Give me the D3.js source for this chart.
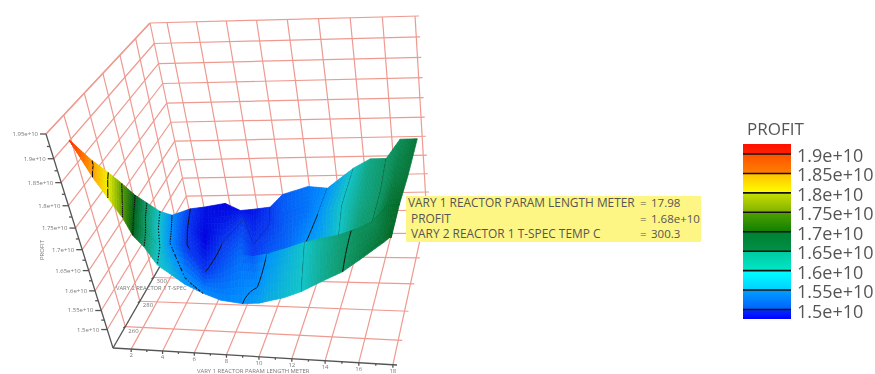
<!DOCTYPE html>
<html>
<head>
<meta charset="utf-8">
<script src="https://cdn.jsdelivr.net/npm/d3@7"></script>
<style>
  html, body { margin: 0; background: #fff; overflow: hidden; }
  svg { display: block; font-family: "Open Sans", sans-serif; }
</style>
</head>
<body>
<div id="chart"></div>
<script>
const lengthTicks = [2, 4, 6, 8, 10, 12, 14, 16, 18];
const tempTicks = [260, 280, 300, 320, 340];
const profitTicks = [1.5, 1.55, 1.6, 1.65, 1.7, 1.75, 1.8, 1.85, 1.9, 1.95];
const contourLevels = [1.5, 1.55, 1.6, 1.65, 1.7, 1.75, 1.8, 1.85, 1.9];
const surfaceStops = [1.47, 1.5, 1.55, 1.6, 1.65, 1.7, 1.75, 1.8, 1.85, 1.9];
const surfaceColors = ['#0000e0', '#0838f0', '#0090ff', '#12c4c8', '#0f9868', '#006018', '#60a000', '#f0f000', '#ffa000', '#ff3000'];
const legendLevels = [1.9, 1.85, 1.8, 1.75, 1.7, 1.65, 1.6, 1.55, 1.5];
const legendTop = ['#ff1000', '#ff5000', '#ffc000', '#c8e000', '#50a000', '#008030', '#00c8a0', '#00ffff', '#00a0ff', '#0030ff'];
const legendBottom = ['#ff2000', '#ff8000', '#ffff00', '#80b000', '#108000', '#009048', '#00e8c8', '#00d0ff', '#0060ff', '#0000ff'];
const tipLabels = ['VARY 1 REACTOR PARAM LENGTH METER', 'PROFIT', 'VARY 2 REACTOR 1 T-SPEC TEMP C'];
const tipValues = ['17.98', '1.68e+10', '300.3'];

// surface, one line per column, back row to front row.
// rows 2 and 3 split where the front sheet folds over the back sheet
const meshLength = [
  [0.8, 0.8, 0.8, 0.8, 0.8],
  [1.6, 1.9, 2.1, 2.1, 2.4],
  [1.7, 2.0, 2.4, 2.4, 2.8],
  [1.7, 2.2, 2.7, 2.7, 3.2],
  [1.8, 2.3, 2.8, 2.8, 3.3],
  [1.7, 2.2, 2.8, 2.8, 3.3],
  [1.8, 2.4, 3.2, 3.2, 3.7],
  [1.7, 2.2, 2.7, 2.7, 4.7],
  [1.7, 2.3, 3.0, 3.0, 5.3],
  [2.3, 3.4, 5.1, 5.1, 6.5],
  [3.5, 5.3, 6.3, 6.3, 7.7],
  [5.1, 6.0, 7.4, 7.4, 9.2],
  [6.0, 7.5, 7.9, 8.1, 10.4],
  [7.5, 8.0, 9.1, 9.4, 11.0],
  [8.3, 9.2, 10.2, 10.8, 12.1],
  [10.1, 10.8, 11.6, 12.2, 13.1],
  [11.7, 11.7, 12.8, 13.3, 14.3],
  [13.6, 13.7, 14.2, 14.6, 15.7],
  [14.9, 15.3, 15.8, 15.8, 16.6],
  [16.1, 16.4, 16.5, 16.6, 17.9],
  [16.7, 17.2, 17.4, 17.4, 18.2],
  [18.0, 18.1, 18.2, 18.2, 18.3]
];
const meshTemp = [
  [259, 259, 259, 259, 259],
  [262, 258, 254, 254, 249],
  [271, 265, 258, 258, 251],
  [280, 271, 262, 262, 253],
  [288, 277, 266, 266, 256],
  [299, 287, 275, 275, 263],
  [309, 294, 279, 279, 265],
  [323, 311, 298, 298, 262],
  [347, 328, 311, 311, 263],
  [356, 328, 290, 290, 260],
  [363, 315, 290, 290, 257],
  [352, 336, 296, 296, 254],
  [353, 314, 302, 298, 251],
  [348, 331, 297, 291, 250],
  [353, 329, 301, 288, 249],
  [355, 331, 299, 286, 251],
  [348, 326, 296, 283, 251],
  [349, 316, 290, 280, 252],
  [345, 309, 281, 281, 256],
  [340, 313, 288, 285, 263],
  [354, 323, 291, 291, 265],
  [347, 315, 289, 289, 265]
];
const meshProfit = [
  [1.9, 1.9, 1.9, 1.9, 1.9],
  [1.85, 1.85, 1.85, 1.85, 1.85],
  [1.8, 1.8, 1.8, 1.8, 1.8],
  [1.75, 1.75, 1.75, 1.75, 1.75],
  [1.7, 1.7, 1.7, 1.7, 1.7],
  [1.65, 1.65, 1.65, 1.65, 1.65],
  [1.6, 1.6, 1.6, 1.6, 1.6],
  [1.55, 1.55, 1.55, 1.55, 1.585],
  [1.5, 1.5, 1.5, 1.5, 1.56],
  [1.48, 1.47, 1.5, 1.5, 1.55],
  [1.47, 1.5, 1.515, 1.515, 1.545],
  [1.48, 1.5, 1.53, 1.53, 1.55],
  [1.48, 1.5, 1.5, 1.52, 1.565],
  [1.5, 1.5, 1.52, 1.55, 1.575],
  [1.52, 1.52, 1.525, 1.575, 1.59],
  [1.535, 1.535, 1.55, 1.6, 1.6],
  [1.55, 1.55, 1.57, 1.62, 1.625],
  [1.6, 1.6, 1.6, 1.64, 1.65],
  [1.635, 1.635, 1.645, 1.655, 1.665],
  [1.65, 1.65, 1.65, 1.66, 1.685],
  [1.66, 1.67, 1.68, 1.68, 1.69],
  [1.68, 1.68, 1.69, 1.69, 1.69]
];

const x = d3.scaleLinear().domain([0.83, 18.24]).range([0, 1]);
const y = d3.scaleLinear().domain([1.45, 1.95]).range([0, 1]);
const z = d3.scaleLinear().domain([244, 360]).range([0, 1]);
const surfaceColor = d3.scaleLinear().domain(surfaceStops).range(surfaceColors).clamp(true);

// box corners: [u, v, w, screen x, screen y, perspective weight]
const corners = [
  [0, 0, 0, 113, 348, 1], [1, 0, 0, 397, 365, 0.95],
  [0, 0, 1, 190, 214, 1.19], [1, 0, 1, 430, 210, 1.12],
  [0, 1, 0, 46, 134, 0.85], [1, 1, 0, 360, 146, 0.8],
  [0, 1, 1, 150, 23, 1.1], [1, 1, 1, 419, 16, 1.03]
];

function projectUnit(u, v, w) {
  let px = 0, py = 0, sum = 0;
  corners.forEach(c => {
    const b = (c[0] ? u : 1 - u) * (c[1] ? v : 1 - v) * (c[2] ? w : 1 - w) * c[5];
    px += b * c[3]; py += b * c[4]; sum += b;
  });
  return [px / sum, py / sum];
}
const project = (len, profit, temp) => projectUnit(x(len), y(profit), z(temp));

const svg = d3.select('#chart').append('svg').attr('width', 875).attr('height', 374);
const chart = svg.append('g').style('filter', 'blur(0.5px)');

// grid on the three walls
const grid = chart.append('g').attr('fill', 'none').attr('stroke', '#ee9a90').attr('stroke-width', 1.2);
const gridLine = (a, b) => grid.append('line')
  .attr('x1', a[0]).attr('y1', a[1]).attr('x2', b[0]).attr('y2', b[1]);
const [xMin, xMax] = x.domain(), [yMin, yMax] = y.domain(), [zMin, zMax] = z.domain();

lengthTicks.forEach(l => {
  gridLine(project(l, yMin, zMin), project(l, yMin, zMax));
  gridLine(project(l, yMin, zMax), project(l, yMax, zMax));
});
tempTicks.forEach(t => {
  gridLine(project(xMin, yMin, t), project(xMax, yMin, t));
  gridLine(project(xMin, yMin, t), project(xMin, yMax, t));
});
profitTicks.forEach(p => {
  gridLine(project(xMin, p, zMin), project(xMin, p, zMax));
  gridLine(project(xMin, p, zMax), project(xMax, p, zMax));
});
gridLine(project(xMin, yMin, zMax), project(xMax, yMin, zMax));
gridLine(project(xMin, yMin, zMax), project(xMin, yMax, zMax));
gridLine(project(xMin, yMax, zMin), project(xMin, yMax, zMax));

// axes
const axes = chart.append('g').attr('stroke', '#555').attr('stroke-width', 1.3);
const axisLine = (a, b) => axes.append('line')
  .attr('x1', a[0]).attr('y1', a[1]).attr('x2', b[0]).attr('y2', b[1]);
const tickText = chart.append('g').attr('fill', '#777').attr('font-size', 6);

axisLine(project(xMin, yMin, zMin), project(xMin, yMax, zMin));
axisLine(project(xMin, yMin, zMin), project(xMax, yMin, zMin));
axisLine(project(xMin, yMin, zMin), project(xMin, yMin, 310));

profitTicks.forEach(p => {
  const a = project(xMin, p, zMin);
  axisLine([a[0] - 6, a[1]], a);
  tickText.append('text').attr('x', a[0] - 8).attr('y', a[1] + 2).attr('text-anchor', 'end').text(`${p}e+10`);
  if (p < 1.95) {
    const m = project(xMin, p + 0.025, zMin);
    axisLine([m[0] - 3, m[1]], m);
  }
});
lengthTicks.forEach(l => {
  const a = project(l, yMin, zMin);
  axisLine(a, [a[0], a[1] + 3]);
  tickText.append('text').attr('x', a[0]).attr('y', a[1] + 8).attr('text-anchor', 'middle').text(l);
  if (l < 18) {
    const m = project(l + 1, yMin, zMin);
    axisLine(m, [m[0], m[1] + 2]);
  }
});
tempTicks.slice(0, 3).forEach(t => {
  const a = project(xMin, yMin, t);
  axisLine(a, [a[0] - 2, a[1] + 1.5]);
  tickText.append('text').attr('x', a[0] + 3).attr('y', a[1] + 6).text(t);
});
tickText.append('text').attr('x', 116).attr('y', 290).attr('font-size', 5.8).text('VARY 2 REACTOR 1 T-SPEC');
tickText.append('text').attr('x', 197).attr('y', 372.5).attr('font-size', 5.9).text('VARY 1 REACTOR PARAM LENGTH METER');
tickText.append('text').attr('transform', 'translate(44,250) rotate(-90)').attr('text-anchor', 'middle').text('PROFIT');

// surface, painted strip by strip from the back row to the front row
const surface = chart.append('g');
const steps = 6;
const meshPoint = (c, r) => project(meshLength[c][r], meshProfit[c][r], meshTemp[c][r]);
const mix = (a, b, t) => a + (b - a) * t;

function contourSegments(tri, level) {
  const pts = [];
  for (let i = 0; i < 3; i++) {
    const a = tri[i], b = tri[(i + 1) % 3];
    if ((a[2] < level) !== (b[2] < level)) {
      const t = (level - a[2]) / (b[2] - a[2]);
      pts.push([mix(a[0], b[0], t), mix(a[1], b[1], t)]);
    }
  }
  return pts.length === 2 ? `M${pts[0]}L${pts[1]}` : '';
}

for (let r = 0; r < 4; r++) {
  for (let c = 0; c < meshLength.length - 1; c++) {
    const p00 = meshPoint(c, r), p10 = meshPoint(c + 1, r), p01 = meshPoint(c, r + 1), p11 = meshPoint(c + 1, r + 1);
    const at = (s, t) => {
      const v = mix(mix(meshProfit[c][r], meshProfit[c + 1][r], s), mix(meshProfit[c][r + 1], meshProfit[c + 1][r + 1], s), t);
      return [
        mix(mix(p00[0], p10[0], s), mix(p01[0], p11[0], s), t),
        mix(mix(p00[1], p10[1], s), mix(p01[1], p11[1], s), t),
        v
      ];
    };
    const strip = surface.append('g');
    let lines = '', dotted = '';
    for (let i = 0; i < steps; i++) {
      for (let j = 0; j < steps; j++) {
        const a = at(i / steps, j / steps), b = at((i + 1) / steps, j / steps);
        const d = at((i + 1) / steps, (j + 1) / steps), e = at(i / steps, (j + 1) / steps);
        const col = surfaceColor((a[2] + b[2] + d[2] + e[2]) / 4);
        strip.append('path').attr('d', `M${a.slice(0, 2)}L${b.slice(0, 2)}L${d.slice(0, 2)}L${e.slice(0, 2)}Z`)
          .attr('fill', col).attr('stroke', col).attr('stroke-width', 0.7);
        contourLevels.forEach(level => {
          const seg = contourSegments([a, b, d], level) + contourSegments([a, d, e], level);
          if (c < 11 && level > 1.5) dotted += seg; else lines += seg;
        });
      }
    }
    strip.append('path').attr('d', lines).attr('fill', 'none').attr('stroke', '#111').attr('stroke-width', 1);
    strip.append('path').attr('d', dotted).attr('fill', 'none').attr('stroke', '#111').attr('stroke-width', 1.1).attr('stroke-dasharray', '1.5 2.5');
  }
}

// tooltip
const tip = svg.append('g');
tip.append('rect').attr('x', 406).attr('y', 196).attr('width', 295).attr('height', 46).attr('fill', '#fdf684');
tipLabels.forEach((label, i) => {
  const row = 207 + i * 15.5;
  tip.append('text').attr('x', i === 0 ? 408 : 411).attr('y', row).attr('font-size', 11.9).attr('fill', '#555').text(label);
  tip.append('text').attr('x', 640).attr('y', row).attr('font-size', 11.5).attr('fill', '#555').text('=');
  tip.append('text').attr('x', 651).attr('y', row).attr('font-size', 11.5).attr('fill', '#555').text(tipValues[i]);
});

// legend
const legendY = d3.scaleLinear().domain([1.9, 1.5]).range([154, 309.5]);
const defs = svg.append('defs');
const gradient = defs.append('linearGradient').attr('id', 'legendFill')
  .attr('gradientUnits', 'userSpaceOnUse').attr('x1', 0).attr('x2', 0).attr('y1', 144).attr('y2', 319);
const bandEdges = [144].concat(legendLevels.map(legendY), [319]);
const offset = d3.scaleLinear().domain([144, 319]).range([0, 1]);
legendTop.forEach((c, i) => {
  gradient.append('stop').attr('offset', offset(bandEdges[i])).attr('stop-color', c);
  gradient.append('stop').attr('offset', offset(bandEdges[i + 1])).attr('stop-color', legendBottom[i]);
});
const legend = svg.append('g').style('filter', 'blur(0.4px)');
legend.append('rect').attr('x', 743).attr('y', 144).attr('width', 48).attr('height', 175).attr('fill', 'url(#legendFill)');
legend.selectAll('line').data(legendLevels).enter().append('line')
  .attr('x1', 743).attr('x2', 791).attr('y1', d => legendY(d)).attr('y2', d => legendY(d))
  .attr('stroke', '#111').attr('stroke-width', 1.6);
legend.selectAll('text.level').data(legendLevels).enter().append('text')
  .attr('class', 'level').attr('x', 797).attr('y', d => legendY(d) + 8)
  .attr('font-size', 18).attr('fill', '#555').text(d => `${d}e+10`);
legend.append('text').attr('x', 747).attr('y', 135).attr('font-size', 17).attr('fill', '#555').text('PROFIT');
</script>
</body>
</html>
